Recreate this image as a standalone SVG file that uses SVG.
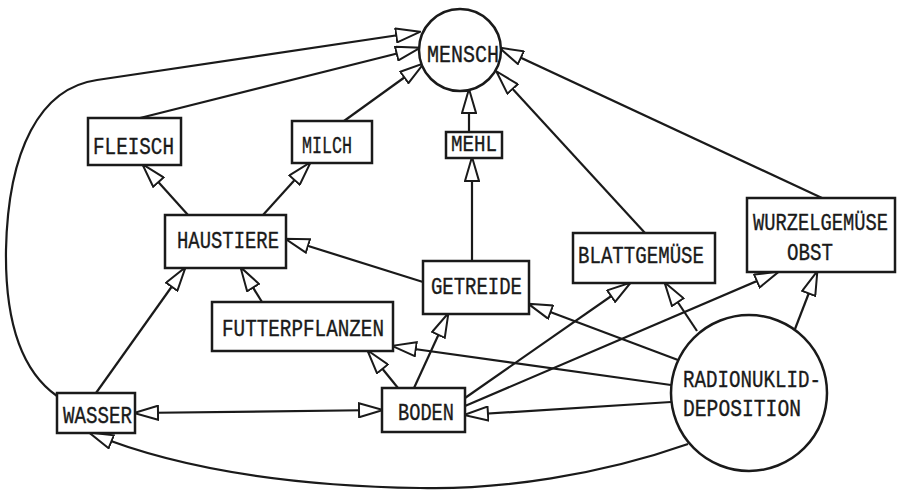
<svg xmlns="http://www.w3.org/2000/svg" width="901" height="494" viewBox="0 0 901 494">
<style>
.box{fill:#fff;stroke:#1a1a1a;stroke-width:2.5}
.t{font-family:"Liberation Mono","DejaVu Sans Mono",monospace;font-size:19px;fill:#1a1a1a;stroke:#1a1a1a;stroke-width:0.3}
.e{fill:none;stroke:#1a1a1a;stroke-width:2.2;marker-end:url(#ah)}
</style>
<defs>
<marker id="ah" viewBox="-1 -1 26 16" refX="23" refY="7" markerWidth="26" markerHeight="16" markerUnits="userSpaceOnUse" orient="auto-start-reverse">
<polygon points="0,0 24,7 0,14" fill="#fff" stroke="#1a1a1a" stroke-width="2" stroke-linejoin="miter"/>
</marker>
</defs>
<rect width="901" height="494" fill="#fff"/>
<g id="connectors">
<path class="e" d="M57,396 C20,370 5,320 6,250 C8,150 40,88 97,80 L419,32"/>
<path class="e" d="M140,118 L419,48"/>
<path class="e" d="M344,121 L423,64"/>
<path class="e" d="M469,132 L469,90"/>
<path class="e" d="M645,233 L497,72"/>
<path class="e" d="M822,198 L500,48"/>
<path class="e" d="M188,215 L143,165"/>
<path class="e" d="M263,215 L310,163"/>
<path class="e" d="M472,261 L472,158"/>
<path class="e" d="M423,282 L286,239"/>
<path class="e" d="M262,302 L241,268"/>
<path class="e" d="M96,393 L185,268"/>
<path class="e" d="M135,413 L382,410" style="marker-start:url(#ah)"/>
<path class="e" d="M398,388 L368,351"/>
<path class="e" d="M414,388 L448,314"/>
<path class="e" d="M465,398 L630,283"/>
<path class="e" d="M465,406 L778,272"/>
<path class="e" d="M671,402 L465,415"/>
<path class="e" d="M671,385 L393,346"/>
<path class="e" d="M678,360 L529,304"/>
<path class="e" d="M697,331 L665,283"/>
<path class="e" d="M795,329 L817,272"/>
<path class="e" d="M688,444 C600,475 500,490 420,488 C290,486 180,470 90,433"/>
</g>
<g id="mensch"><circle class="box" cx="460" cy="50" r="41"/><text class="t" transform="translate(427,62) scale(1,1.25)" textLength="72" lengthAdjust="spacingAndGlyphs">MENSCH</text></g>
<g id="mehl"><rect class="box" x="446" y="132" width="56" height="26"/><text class="t" transform="translate(451,151) scale(1,1.2)" textLength="46" lengthAdjust="spacingAndGlyphs">MEHL</text></g>
<g id="fleisch"><rect class="box" x="88" y="118" width="93" height="47"/><text class="t" transform="translate(93,154) scale(1,1.25)" textLength="81" lengthAdjust="spacingAndGlyphs">FLEISCH</text></g>
<g id="milch"><rect class="box" x="292" y="121" width="80" height="42"/><text class="t" transform="translate(302,153) scale(1,1.25)" textLength="50" lengthAdjust="spacingAndGlyphs">MILCH</text></g>
<g id="haustiere"><rect class="box" x="165" y="215" width="121" height="53"/><text class="t" transform="translate(177,248) scale(1,1.25)" textLength="102" lengthAdjust="spacingAndGlyphs">HAUSTIERE</text></g>
<g id="getreide"><rect class="box" x="423" y="261" width="106" height="53"/><text class="t" transform="translate(431,294) scale(1,1.25)" textLength="91" lengthAdjust="spacingAndGlyphs">GETREIDE</text></g>
<g id="futterpflanzen"><rect class="box" x="212" y="302" width="181" height="49"/><text class="t" transform="translate(222,336) scale(1,1.25)" textLength="162" lengthAdjust="spacingAndGlyphs">FUTTERPFLANZEN</text></g>
<g id="boden"><rect class="box" x="382" y="388" width="83" height="44"/><text class="t" transform="translate(398,420) scale(1,1.25)" textLength="56" lengthAdjust="spacingAndGlyphs">BODEN</text></g>
<g id="wasser"><rect class="box" x="57" y="393" width="78" height="40"/><text class="t" transform="translate(63,423) scale(1,1.25)" textLength="69" lengthAdjust="spacingAndGlyphs">WASSER</text></g>
<g id="blattgemuese"><rect class="box" x="573" y="233" width="142" height="50"/><text class="t" transform="translate(578,263) scale(1,1.25)" textLength="126" lengthAdjust="spacingAndGlyphs">BLATTGEMÜSE</text></g>
<g id="wurzelgemuese"><rect class="box" x="747" y="198" width="148" height="74"/><text class="t" transform="translate(753,230) scale(1,1.25)" textLength="135" lengthAdjust="spacingAndGlyphs">WURZELGEMÜSE</text><text class="t" transform="translate(787,260) scale(1,1.25)" textLength="46" lengthAdjust="spacingAndGlyphs">OBST</text></g>
<g id="deposition"><circle class="box" cx="749" cy="393" r="78"/><text class="t" transform="translate(683,387) scale(1,1.25)" textLength="138" lengthAdjust="spacingAndGlyphs">RADIONUKLID-</text><text class="t" transform="translate(683,416) scale(1,1.25)" textLength="118" lengthAdjust="spacingAndGlyphs">DEPOSITION</text></g>
</svg>
